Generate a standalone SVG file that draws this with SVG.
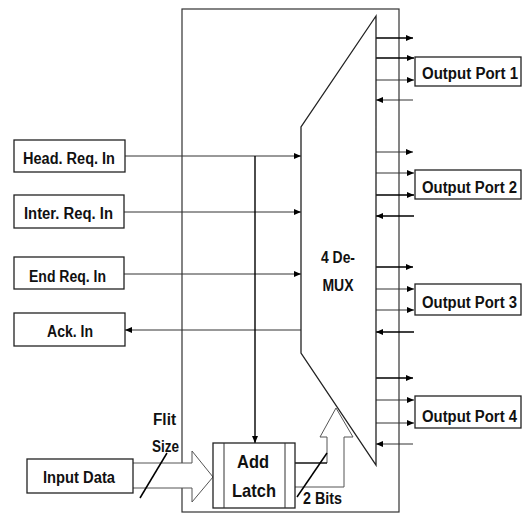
<svg xmlns="http://www.w3.org/2000/svg" width="523" height="515" viewBox="0 0 523 515">
<style>
.box{fill:#fff;stroke:#222;stroke-width:1.3}
.ln{stroke:#333;stroke-width:1;fill:none}
.bk{stroke:#000;stroke-width:1.4;fill:none}
.hol{fill:#fff;stroke:#555;stroke-width:1}
text{font-family:"Liberation Sans",Arial,sans-serif;font-weight:bold;fill:#111}
.t{font-size:16px}
.big{font-size:19px}
</style>
<defs>
<marker id="ah" markerWidth="8" markerHeight="6" refX="7" refY="3" orient="auto" markerUnits="userSpaceOnUse">
<path d="M0,0 L7,3 L0,6 Z" fill="#000"/>
</marker>
</defs>
<rect width="523" height="515" fill="#fff"/>
<g id="outer"><rect x="182" y="9" width="217" height="503" fill="none" stroke="#333" stroke-width="1.2"/></g>
<g id="connectors">
<line class="ln" x1="125" y1="156" x2="301" y2="156" marker-end="url(#ah)"/>
<line class="ln" x1="124" y1="212" x2="301" y2="212" marker-end="url(#ah)"/>
<line class="ln" x1="124" y1="274" x2="301" y2="274" marker-end="url(#ah)"/>
<line class="ln" x1="301" y1="330" x2="125" y2="330" marker-end="url(#ah)"/>
<line class="bk" x1="255" y1="156" x2="255" y2="443" marker-end="url(#ah)"/>
<g>
<line class="bk" x1="376" y1="38" x2="413" y2="38" marker-end="url(#ah)"/>
<line class="bk" x1="376" y1="58" x2="414" y2="58" marker-end="url(#ah)"/>
<line class="ln" x1="376" y1="80" x2="414" y2="80" marker-end="url(#ah)"/>
<line class="ln" x1="413" y1="100" x2="376" y2="100" marker-end="url(#ah)"/>
<line class="ln" x1="376" y1="152" x2="413" y2="152" marker-end="url(#ah)"/>
<line class="ln" x1="376" y1="173" x2="414" y2="173" marker-end="url(#ah)"/>
<line class="bk" x1="376" y1="195" x2="414" y2="195" marker-end="url(#ah)"/>
<line class="bk" x1="414" y1="216" x2="376" y2="216" marker-end="url(#ah)"/>
<line class="bk" x1="376" y1="267" x2="413" y2="267" marker-end="url(#ah)"/>
<line class="ln" x1="376" y1="289" x2="414" y2="289" marker-end="url(#ah)"/>
<line class="ln" x1="376" y1="310" x2="414" y2="310" marker-end="url(#ah)"/>
<line class="bk" x1="414" y1="332" x2="376" y2="332" marker-end="url(#ah)"/>
<line class="bk" x1="376" y1="378" x2="413" y2="378" marker-end="url(#ah)"/>
<line class="ln" x1="376" y1="400" x2="414" y2="400" marker-end="url(#ah)"/>
<line class="ln" x1="376" y1="423" x2="414" y2="423" marker-end="url(#ah)"/>
<line class="ln" x1="413" y1="444" x2="376" y2="444" marker-end="url(#ah)"/>
</g>
<path class="hol" d="M133,463 L192,463 L192,451 L213,477 L192,502 L192,488 L133,488"/>
<path class="hol" d="M295,487 L344,487 L344,437 L353,437 L336,408 L320,437 L327,437 L327,463" />
<line x1="295" y1="463" x2="327" y2="463" stroke="#000" stroke-width="1.4"/>
<line x1="140" y1="498" x2="167" y2="453" stroke="#000" stroke-width="1.5"/>
<line x1="297" y1="497" x2="327" y2="453" stroke="#000" stroke-width="1.5"/>
</g>
<g id="mux">
<path d="M376,16 L301,127 L301,353 L376,465 Z" fill="none" stroke="#222" stroke-width="1.3"/>
<text class="t" x="338" y="263" text-anchor="middle" textLength="34" lengthAdjust="spacingAndGlyphs">4 De-</text>
<text class="t" x="338" y="291" text-anchor="middle" textLength="31" lengthAdjust="spacingAndGlyphs">MUX</text>
</g>
<g id="head"><rect class="box" x="14" y="140" width="111" height="32"/><text class="t" x="23" y="164" textLength="92" lengthAdjust="spacingAndGlyphs">Head. Req. In</text></g>
<g id="inter"><rect class="box" x="14" y="195" width="110" height="33"/><text class="t" x="24" y="219" textLength="89" lengthAdjust="spacingAndGlyphs">Inter. Req. In</text></g>
<g id="end"><rect class="box" x="14" y="257" width="110" height="32"/><text class="t" x="29" y="282" textLength="77" lengthAdjust="spacingAndGlyphs">End Req. In</text></g>
<g id="ack"><rect class="box" x="14" y="313" width="111" height="33"/><text class="t" x="47" y="337" textLength="46" lengthAdjust="spacingAndGlyphs">Ack. In</text></g>
<g id="input"><rect class="box" x="27" y="459" width="106" height="34"/><text class="t" x="43" y="483" textLength="72" lengthAdjust="spacingAndGlyphs">Input Data</text></g>
<g id="latch">
<rect class="box" x="213" y="443" width="82" height="65"/>
<line class="ln" x1="224" y1="443" x2="224" y2="508"/>
<line class="ln" x1="285" y1="443" x2="285" y2="508"/>
<text class="big" x="237" y="468" textLength="32" lengthAdjust="spacingAndGlyphs">Add</text>
<text class="big" x="232" y="497" textLength="44" lengthAdjust="spacingAndGlyphs">Latch</text>
</g>
<g id="p1"><rect class="box" x="415" y="57" width="106" height="29"/><text class="t" x="422" y="79" textLength="96" lengthAdjust="spacingAndGlyphs">Output Port 1</text></g>
<g id="p2"><rect class="box" x="415" y="170" width="106" height="29"/><text class="t" x="422" y="193" textLength="95" lengthAdjust="spacingAndGlyphs">Output Port 2</text></g>
<g id="p3"><rect class="box" x="415" y="284" width="106" height="31"/><text class="t" x="422" y="308" textLength="95" lengthAdjust="spacingAndGlyphs">Output Port 3</text></g>
<g id="p4"><rect class="box" x="415" y="396" width="106" height="32"/><text class="t" x="422" y="422" textLength="95" lengthAdjust="spacingAndGlyphs">Output Port 4</text></g>
<g id="labels">
<text class="t" x="153" y="425" textLength="23" lengthAdjust="spacingAndGlyphs">Flit</text>
<text class="t" x="152" y="452" textLength="27" lengthAdjust="spacingAndGlyphs">Size</text>
<text class="t" x="303" y="504" textLength="39" lengthAdjust="spacingAndGlyphs">2 Bits</text>
</g>
</svg>
